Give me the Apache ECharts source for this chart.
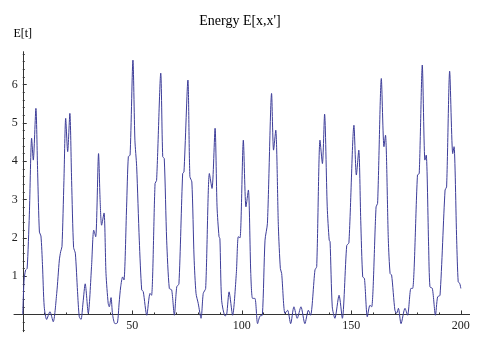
<!DOCTYPE html>
<html>
<head>
<meta charset="utf-8">
<script src="https://cdn.jsdelivr.net/npm/echarts@6/dist/echarts.min.js"></script>
<style>
  html, body { margin: 0; padding: 0; background: #fff; }
  #chart { width: 480px; height: 341px; }
</style>
</head>
<body>
<div id="chart"></div>
<script>
// energy curve
const xs = [
  0, 0.6, 1.3, 2.0, 3.0, 4.05, 4.8, 6.0, 6.8, 7.6, 8.3, 9.0, 9.8, 10.9, 12.4, 13.9,
  15.5, 16.7, 17.3, 17.9, 18.8, 19.6, 20.5, 21.5, 22.3, 23.2, 24.0, 25.0, 25.8, 26.6,
  27.5, 28.5, 29.9, 31.4, 32.4, 33.3, 34.6, 35.3, 36.0, 37.1, 38.0, 39.0, 39.5, 40.3,
  41.0, 42.1, 43.2, 44.0, 44.7, 45.6, 46.2, 47.4, 48.2, 49.0, 50.3, 51.2, 52.0, 53.2,
  54.3, 55.0, 56.6, 58.1, 58.8, 60.4, 61.1, 63.0, 63.9, 64.6, 65.7, 66.9, 68.0, 69.2,
  70.3, 71.3, 73.0, 73.6, 75.4, 76.3, 77.2, 78.2, 79.1, 80.1, 81.4, 82.4, 83.5, 85.2,
  86.4, 87.8, 88.7, 89.6, 90.0, 90.8, 92.4, 93.1, 94.2, 95.8, 97.5, 98.4, 99.2, 100.7,
  101.9, 103.0, 104.1, 104.9, 106.0, 107.2, 108.3, 109.4, 110.6, 111.7, 113.6, 114.5,
  115.5, 116.7, 117.6, 118.2, 119.7, 120.9, 122.3, 123.8, 125.3, 127.0, 128.8, 130.4,
  131.4, 133.4, 134.2, 135.7, 136.8, 137.8, 139.0, 139.9, 140.3, 141.3, 142.5, 144.4,
  145.9, 147.9, 148.9, 151.2, 152.3, 153.4, 154.3, 155.2, 156.0, 157.3, 158.5, 159.3,
  161.3, 162.0, 163.7, 164.9, 165.6, 166.9, 167.7, 168.4, 169.9, 170.7, 171.5, 172.7,
  174.5, 175.7, 177.2, 178.0, 180.2, 181.0, 182.4, 183.6, 184.2, 185.3, 185.9, 187.0,
  188.4, 189.4, 190.5, 192.8, 193.5, 194.9, 196.3, 196.9, 198.1, 198.8, 199.5, 200.0
];
const energy = [
  0, 0.9, 1.16, 1.2, 2.6, 4.6, 4.03, 5.38, 3.7, 2.15, 2.05, 1.3, 0.2, -0.13, 0.07, -0.19,
  0.55, 1.42, 1.64, 1.77, 3.5, 5.12, 4.25, 5.25, 3.5, 1.75, 1.6, 0.6, -0.06, -0.13,
  0.3, 0.8, 0.03, 1.25, 2.2, 2.03, 4.2, 3.0, 2.33, 2.65, 1.07, 0.29, 0.2, 0.44,
  0.0, -0.24, -0.22, 0.3, 0.72, 0.98, 0.9, 2.8, 4.12, 4.16, 6.64, 4.55, 3.86, 1.94,
  0.64, 0.6, -0.02, 0.55, 0.5, 3.42, 3.5, 6.3, 4.12, 4.07, 1.94, 0.68, 0.64, -0.02,
  0.72, 0.8, 3.68, 3.72, 6.12, 3.6, 3.46, 1.5, 0.55, 0.29, -0.1, 0.55, 0.68, 3.68,
  3.29, 4.86, 2.81, 2.03, 1.98, 0.37, -0.04, 0.0, 0.59, -0.02, 1.07, 2.03, 2.0, 4.55,
  2.81, 3.25, 1.07, 0.42, 0.42, -0.24, -0.04, -0.02, 1.94, 2.38, 5.77, 4.29,
  4.81, 2.29, 1.2, 1.07, 0.03, 0.11, -0.24, 0.2, -0.1, 0.2, -0.24, 0.11,
  -0.02, 1.16, 1.25, 4.55, 3.94, 5.23, 2.81, 1.94, 1.9, 0.2, -0.1, 0.5,
  -0.1, 1.8, 1.87, 4.94, 3.64, 4.29, 2.46, 0.98, 0.94, -0.06, 0.24, 0.2,
  2.81, 2.9, 6.16, 4.38, 4.68, 1.94, 1.07, 1.03, 0.11, 0.03, 0.16, -0.24,
  0.16, -0.02, 0.68, 0.68, 3.64, 3.68, 6.51, 4.03, 4.16, 1.77, 0.72, 0.68,
  -0.02, 0.46, 0.5, 3.25, 3.33, 6.35, 4.2, 4.38, 1.94, 0.85, 0.81, 0.68
];

const xMajor = [50, 100, 150, 200];
const xMinor = [10, 20, 30, 40, 60, 70, 80, 90, 110, 120, 130, 140, 160, 170, 180, 190];
const yMajor = [1, 2, 3, 4, 5, 6];
const yMinor = [-0.4, -0.2, 0.2, 0.4, 0.6, 0.8, 1.2, 1.4, 1.6, 1.8, 2.2, 2.4, 2.6, 2.8,
  3.2, 3.4, 3.6, 3.8, 4.2, 4.4, 4.6, 4.8, 5.2, 5.4, 5.6, 5.8, 6.2, 6.4, 6.6, 6.8];

const serif = 'Liberation Serif, Times New Roman, serif';
const axisColor = '#333';

const X_MIN = -4, X_MAX = 204, Y_MIN = -0.45, Y_MAX = 6.86;
const G_LEFT = 14, G_RIGHT = 10.4, G_TOP = 51.7, G_BOTTOM = 9.3;
const W = 480, H = 341;
// shift the axes so they cross at (0, 0), like Mathematica's Axes
const xOff = -(0 - Y_MIN) / (Y_MAX - Y_MIN) * (H - G_TOP - G_BOTTOM);
const yOff = -(0 - X_MIN) / (X_MAX - X_MIN) * (W - G_LEFT - G_RIGHT);

const chart = echarts.init(document.getElementById('chart'), null, { renderer: 'canvas' });

const baseX = { type: 'value', min: X_MIN, max: X_MAX, position: 'bottom', offset: xOff, splitLine: { show: false } };
const baseY = { type: 'value', min: Y_MIN, max: Y_MAX, position: 'left', offset: yOff, splitLine: { show: false } };

chart.setOption({
  animation: false,
  backgroundColor: '#fff',
  title: {
    text: "Energy E[x,x']",
    left: 'center',
    top: 9,
    textStyle: { fontFamily: serif, fontSize: 14, fontWeight: 'normal', color: '#000' }
  },
  grid: { left: G_LEFT, right: G_RIGHT, top: G_TOP, bottom: G_BOTTOM, outerBoundsMode: 'none', containLabel: false },
  xAxis: [
    {
      ...baseX,
      axisLine: { onZero: false, lineStyle: { color: axisColor, width: 1 } },
      axisTick: { inside: true, length: 4, customValues: xMajor, lineStyle: { color: axisColor } },
      axisLabel: { customValues: xMajor, margin: 5, fontFamily: serif, fontSize: 12, color: '#222' }
    },
    {
      ...baseX,
      axisLine: { show: false, onZero: false },
      axisTick: { inside: true, length: 2, customValues: xMinor, lineStyle: { color: axisColor } },
      axisLabel: { show: false }
    }
  ],
  yAxis: [
    {
      ...baseY,
      name: 'E[t]',
      nameLocation: 'end',
      nameGap: 12,
      nameTextStyle: { fontFamily: serif, fontSize: 12, color: '#000' },
      axisLine: { onZero: false, lineStyle: { color: axisColor, width: 1 } },
      axisTick: { inside: true, length: 4, customValues: yMajor, lineStyle: { color: axisColor } },
      axisLabel: { customValues: yMajor, margin: 5, fontFamily: serif, fontSize: 12, color: '#222' }
    },
    {
      ...baseY,
      axisLine: { show: false, onZero: false },
      axisTick: { inside: true, length: 2, customValues: yMinor, lineStyle: { color: axisColor } },
      axisLabel: { show: false }
    }
  ],
  series: [
    {
      type: 'line',
      xAxisIndex: 0,
      yAxisIndex: 0,
      data: xs.map((x, i) => [x, energy[i]]),
      showSymbol: false,
      smooth: 0.25,
      clip: false,
      lineStyle: { color: '#3d3d99', width: 1 }
    }
  ]
});
</script>
</body>
</html>
